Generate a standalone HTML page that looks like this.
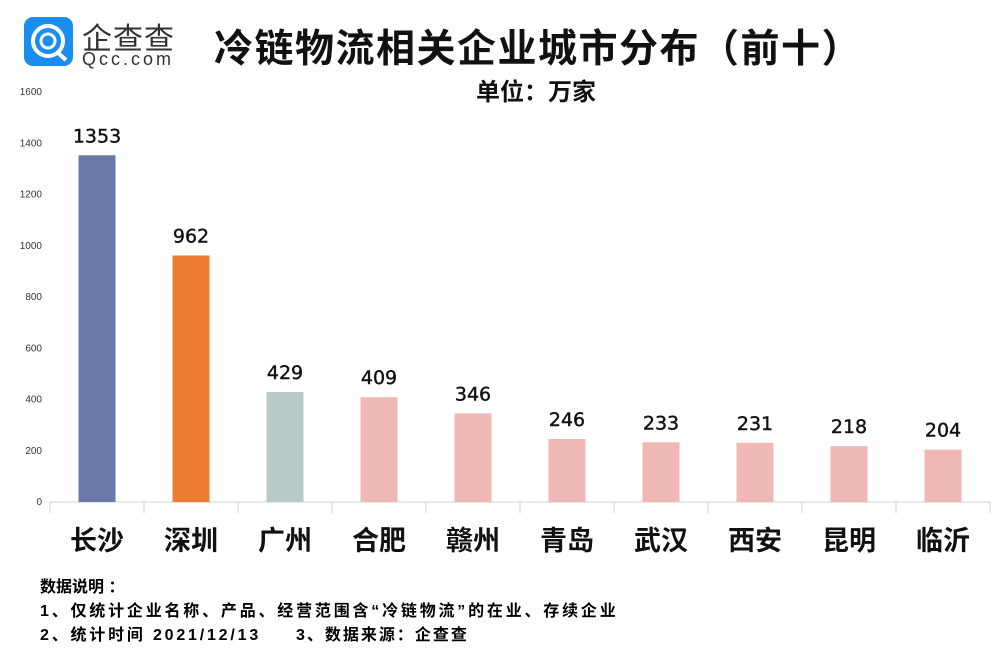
<!DOCTYPE html>
<html><head><meta charset="utf-8"><style>
body{margin:0;background:#fff;width:1006px;height:659px;overflow:hidden;position:relative;font-family:"Liberation Sans","Noto Sans CJK SC",sans-serif}
.t{position:absolute;white-space:nowrap}
</style></head><body>
<div style="position:absolute;left:24px;top:17px;width:49px;height:49px;background:#1a8ef0;border-radius:9px">
<svg width="49" height="49"><circle cx="24" cy="24" r="15" fill="none" stroke="#fff" stroke-width="4"/><circle cx="24" cy="24" r="7" fill="none" stroke="#fff" stroke-width="3"/><line x1="33" y1="35" x2="42" y2="43" stroke="#fff" stroke-width="4"/></svg></div>
<div class="t" style="left:82px;top:14px;font-size:30px;color:#333;letter-spacing:1px">企查查</div>
<div class="t" style="left:82px;top:49px;font-size:18px;color:#333;letter-spacing:3px">Qcc.com</div>
<div class="t" style="left:214px;top:18px;font-size:39px;font-weight:bold;color:#111;letter-spacing:1.5px">冷链物流相关企业城市分布（前十）</div>
<div class="t" style="left:476px;top:72px;font-size:24px;font-weight:bold;color:#111">单位：万家</div>
<svg id="c" width="1006" height="659" style="position:absolute;left:0;top:0"></svg>
<div class="t" style="left:40px;top:573px;font-size:16px;font-weight:bold">数据说明 ：</div>
<div class="t" style="left:40px;top:597px;font-size:16px;font-weight:bold;letter-spacing:2.8px">1、仅统计企业名称、产品、经营范围含“冷链物流”的在业、存续企业</div>
<div class="t" style="left:40px;top:621px;font-size:16px;font-weight:bold;letter-spacing:2.8px">2、统计时间 2021/12/13</div>
<div class="t" style="left:296px;top:621px;font-size:16px;font-weight:bold;letter-spacing:2px">3、数据来源：企查查</div>
<script>
const categories=["长沙","深圳","广州","合肥","赣州","青岛","武汉","西安","昆明","临沂"];
const values=[1353,962,429,409,346,246,233,231,218,204];
const colors=["#6878aa","#ed7d31","#b6cac8","#efb8b4","#efb8b4","#efb8b4","#efb8b4","#efb8b4","#efb8b4","#efb8b4"];
const ticks=[0,200,400,600,800,1000,1200,1400,1600];
const NS="http://www.w3.org/2000/svg",svg=document.getElementById('c');
const y0=502,pxu=410/1600,x0=50,step=94,bw=37;
const y=v=>y0-v*pxu, xc=i=>x0+step*i+step/2;
function mk(t,a,txt){const e=document.createElementNS(NS,t);for(const k in a)e.setAttribute(k,a[k]);if(txt!=null)e.textContent=txt;svg.appendChild(e);return e;}
ticks.forEach(t=>{const e=mk('text',{x:42,y:y(t)+3,'text-anchor':'end','font-size':10,fill:'#333'},t);

});
const ax=mk('line',{x1:x0,x2:x0+step*10,y1:y0,y2:y0,stroke:'#d0d0d0'});


for(let i=0;i<=10;i++){const tk=mk('line',{x1:x0+step*i,x2:x0+step*i,y1:y0,y2:y0+11,stroke:'#d0d0d0'});

}
categories.forEach((c,i)=>{
const b=mk('rect',{x:xc(i)-bw/2,y:y(values[i]),width:bw,height:y0-y(values[i]),fill:colors[i]});


const l=mk('text',{x:xc(i),y:y(values[i])-13,'text-anchor':'middle','font-size':19,fill:'#111','stroke':'#111','stroke-width':0.4,'font-family':'"DejaVu Sans",sans-serif'},values[i]);


const cl=mk('text',{x:xc(i),y:550,'text-anchor':'middle','font-size':27,'font-weight':'bold',fill:'#111'},c);


});
</script>
</body></html>
